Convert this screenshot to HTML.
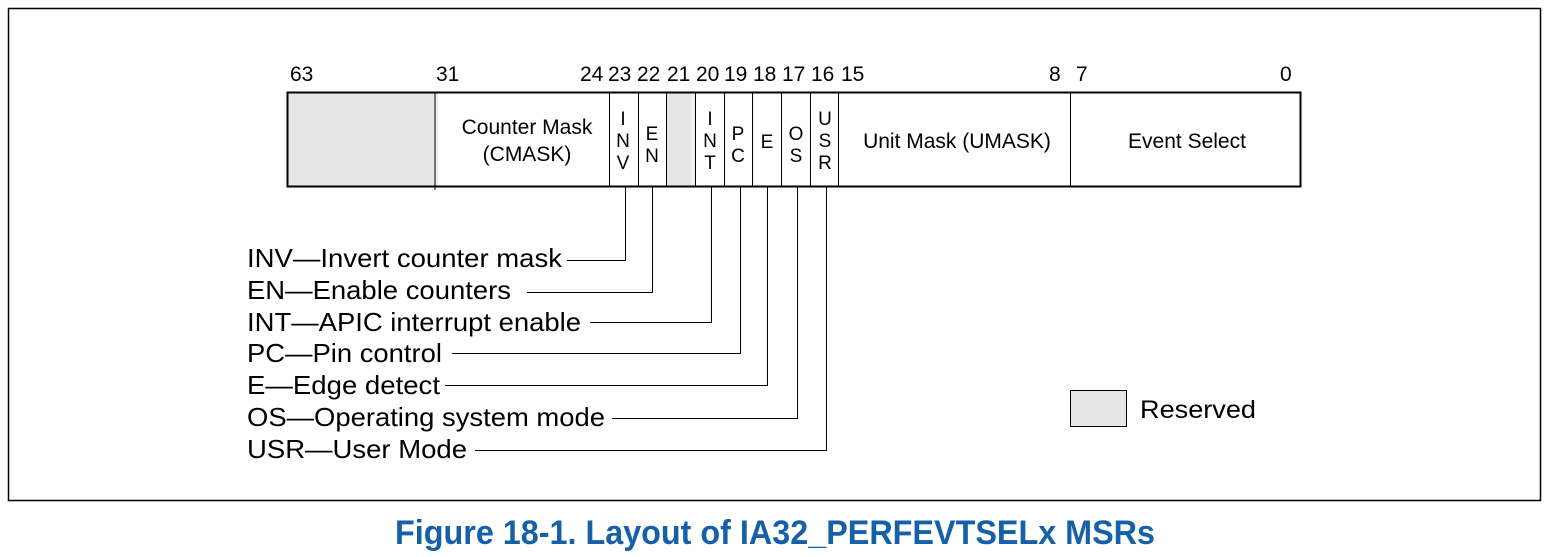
<!DOCTYPE html>
<html><head><meta charset="utf-8"><style>
html,body{margin:0;padding:0;background:#fff;}
svg{display:block;font-family:"Liberation Sans",Arial,sans-serif;}
</style></head><body>
<svg width="1549" height="557" viewBox="0 0 1549 557" xmlns="http://www.w3.org/2000/svg">
<rect x="8.5" y="8.5" width="1532" height="492" fill="none" stroke="#000" stroke-width="1.5"/>
<rect x="288" y="93" width="147" height="93" fill="#e6e6e6"/>
<rect x="435" y="93" width="3" height="93" fill="#ececec"/>
<rect x="667" y="93" width="24" height="93" fill="#e6e6e6"/>
<rect x="691" y="93" width="4" height="93" fill="#efefef"/>
<rect x="287.5" y="92.5" width="1013" height="94" fill="none" stroke="#000" stroke-width="2"/>
<g stroke="#000" stroke-width="1">
<line x1="435" y1="93" x2="435" y2="190"/>
<line x1="609.5" y1="93" x2="609.5" y2="186"/>
<line x1="638.5" y1="93" x2="638.5" y2="186"/>
<line x1="666.5" y1="93" x2="666.5" y2="186"/>
<line x1="695.5" y1="93" x2="695.5" y2="186"/>
<line x1="724.5" y1="93" x2="724.5" y2="186"/>
<line x1="752.5" y1="93" x2="752.5" y2="186"/>
<line x1="781.5" y1="93" x2="781.5" y2="186"/>
<line x1="810.5" y1="93" x2="810.5" y2="186"/>
<line x1="838.5" y1="93" x2="838.5" y2="186"/>
<line x1="1070.5" y1="93" x2="1070.5" y2="186"/>
<polyline fill="none" points="625.5,187 625.5,260.5 567,260.5"/>
<polyline fill="none" points="652.5,187 652.5,292.5 527,292.5"/>
<polyline fill="none" points="711.5,187 711.5,322.5 590,322.5"/>
<polyline fill="none" points="740.5,187 740.5,353.5 452,353.5"/>
<polyline fill="none" points="767.5,187 767.5,385.5 445,385.5"/>
<polyline fill="none" points="797.5,187 797.5,418.5 612,418.5"/>
<polyline fill="none" points="826.5,187 826.5,450.5 475,450.5"/>
</g>
<g font-size="21" fill="#000">
<text x="290" y="81">63</text>
<text x="436" y="81">31</text>
<text x="580" y="81">24</text>
<text x="608" y="81">23</text>
<text x="637" y="81">22</text>
<text x="667" y="81">21</text>
<text x="696" y="81">20</text>
<text x="724" y="81">19</text>
<text x="753" y="81">18</text>
<text x="782" y="81">17</text>
<text x="811" y="81">16</text>
<text x="841" y="81">15</text>
<text x="1049" y="81">8</text>
<text x="1076" y="81">7</text>
<text x="1280" y="81">0</text>
</g>
<g font-size="21" fill="#000" text-anchor="middle">
<text x="527" y="134">Counter Mask</text>
<text x="527" y="161">(CMASK)</text>
<g font-size="19">
<text x="623" y="125">I</text>
<text x="623" y="147">N</text>
<text x="623" y="169">V</text>
<text x="652" y="140">E</text>
<text x="652" y="162">N</text>
<text x="710" y="125">I</text>
<text x="710" y="147">N</text>
<text x="710" y="169">T</text>
<text x="738" y="140">P</text>
<text x="738" y="162">C</text>
<text x="767" y="148">E</text>
<text x="796" y="140">O</text>
<text x="796" y="162">S</text>
<text x="825" y="125">U</text>
<text x="825" y="147">S</text>
<text x="825" y="169">R</text>
</g>
<text x="957" y="148">Unit Mask (UMASK)</text>
<text x="1187" y="148">Event Select</text>
</g>
<g font-size="26" fill="#000">
<text x="247" y="267" textLength="315" lengthAdjust="spacingAndGlyphs">INV—Invert counter mask</text>
<text x="247" y="299" textLength="264" lengthAdjust="spacingAndGlyphs">EN—Enable counters</text>
<text x="247" y="331" textLength="334" lengthAdjust="spacingAndGlyphs">INT—APIC interrupt enable</text>
<text x="247" y="362" textLength="195" lengthAdjust="spacingAndGlyphs">PC—Pin control</text>
<text x="247" y="394" textLength="193" lengthAdjust="spacingAndGlyphs">E—Edge detect</text>
<text x="247" y="426" textLength="358" lengthAdjust="spacingAndGlyphs">OS—Operating system mode</text>
<text x="247" y="458" textLength="220" lengthAdjust="spacingAndGlyphs">USR—User Mode</text>
</g>
<rect x="1070.5" y="390.5" width="56" height="36" fill="#e6e6e6" stroke="#000" stroke-width="1"/>
<text x="1140" y="418" font-size="25" fill="#000" textLength="116" lengthAdjust="spacingAndGlyphs">Reserved</text>
<text x="395" y="544" font-size="34" font-weight="bold" fill="#1560a8" textLength="760" lengthAdjust="spacingAndGlyphs">Figure 18-1.  Layout of IA32_PERFEVTSELx MSRs</text>
</svg>
</body></html>
